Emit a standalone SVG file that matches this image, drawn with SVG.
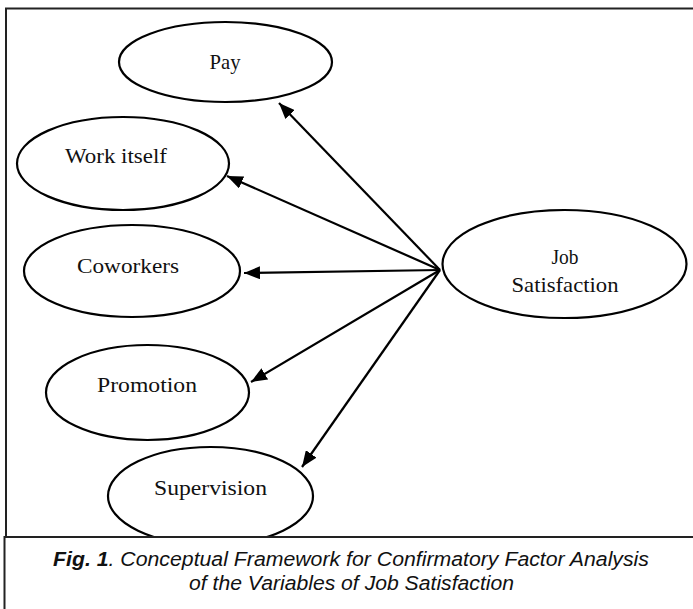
<svg xmlns="http://www.w3.org/2000/svg" width="693" height="609" viewBox="0 0 693 609">
<style>
.node ellipse{fill:#fff;stroke:#000;stroke-width:2.2}
.node text{font-family:"Liberation Serif","Times New Roman",serif;font-size:22px;fill:#111;text-anchor:middle}
.conn line{stroke:#000;stroke-width:2.2}
.cap{font-family:"Liberation Sans",Arial,sans-serif;font-size:20.5px;font-style:italic;fill:#111;text-anchor:middle}
</style>
<defs>
<marker id="ah" markerUnits="userSpaceOnUse" markerWidth="17" markerHeight="13" refX="16" refY="6.5" orient="auto">
<path d="M0,0 L16,6.5 L0,13 z" fill="#000"/>
</marker>
</defs>
<rect x="0" y="0" width="693" height="609" fill="#fff"/>
<rect id="frame" x="6" y="8.5" width="700" height="540" fill="none" stroke="#222" stroke-width="2"/>
<g id="pay" class="node"><ellipse cx="225.5" cy="62" rx="106.5" ry="40"/><text x="225" y="69" textLength="31" lengthAdjust="spacingAndGlyphs">Pay</text></g>
<g id="work" class="node"><ellipse cx="123" cy="163.5" rx="106" ry="46.5"/><text x="116" y="163" textLength="102" lengthAdjust="spacingAndGlyphs">Work itself</text></g>
<g id="coworkers" class="node"><ellipse cx="132" cy="271" rx="108" ry="46"/><text x="128" y="273" textLength="102" lengthAdjust="spacingAndGlyphs">Coworkers</text></g>
<g id="promotion" class="node"><ellipse cx="147.5" cy="392.5" rx="101.5" ry="47.5"/><text x="147" y="392" textLength="100" lengthAdjust="spacingAndGlyphs">Promotion</text></g>
<g id="supervision" class="node"><ellipse cx="210.5" cy="496" rx="102.5" ry="49"/><text x="210.5" y="495" textLength="113" lengthAdjust="spacingAndGlyphs">Supervision</text></g>
<g id="job" class="node"><ellipse cx="564.5" cy="264" rx="122" ry="54"/><text x="565" y="264" textLength="27" lengthAdjust="spacingAndGlyphs">Job</text><text x="565" y="292" textLength="107" lengthAdjust="spacingAndGlyphs">Satisfaction</text></g>
<g id="connectors" class="conn">
<line x1="440" y1="270" x2="279" y2="103" marker-end="url(#ah)"/>
<line x1="440" y1="270" x2="227" y2="176" marker-end="url(#ah)"/>
<line x1="440" y1="270" x2="244" y2="273" marker-end="url(#ah)"/>
<line x1="440" y1="270" x2="251" y2="382" marker-end="url(#ah)"/>
<line x1="440" y1="270" x2="302" y2="467" marker-end="url(#ah)"/>
</g>
<g id="caption">
<rect x="4.5" y="537" width="700" height="100" fill="#fff" stroke="#222" stroke-width="2"/>
<text class="cap" x="351" y="566" textLength="596" lengthAdjust="spacingAndGlyphs"><tspan font-weight="bold">Fig. 1</tspan>. Conceptual Framework for Confirmatory Factor Analysis</text>
<text class="cap" x="351.5" y="590" textLength="325" lengthAdjust="spacingAndGlyphs">of the Variables of Job Satisfaction</text>
</g>
</svg>
